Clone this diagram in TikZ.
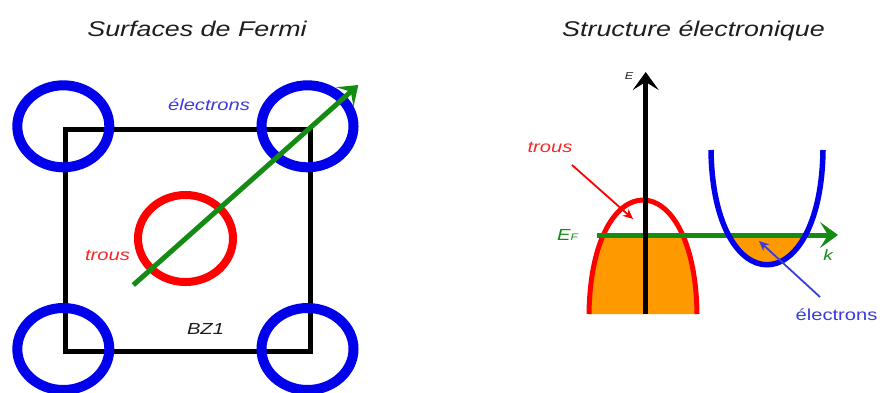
\documentclass[tikz,border=0pt]{standalone}
\usepackage{fontspec}
\setmainfont{Liberation Sans}
\usepackage{graphicx}
\usetikzlibrary{arrows.meta}
\definecolor{bblue}{RGB}{0,0,235}
\definecolor{tblue}{RGB}{60,60,220}
\definecolor{rred}{RGB}{255,0,0}
\definecolor{tred}{RGB}{245,40,40}
\definecolor{ggreen}{RGB}{20,140,20}
\definecolor{oorange}{RGB}{255,153,0}
\definecolor{ttext}{RGB}{30,30,30}
\newcommand{\strx}[1]{\scalebox{1.26}[1]{#1}}
\begin{document}
\begin{tikzpicture}[x=1pt,y=-1pt,
  lbl/.style={inner sep=0pt, anchor=base, font=\fontsize{16}{18}\selectfont\itshape},
  ttl/.style={inner sep=0pt, anchor=base, font=\fontsize{21.3}{24}\selectfont\itshape, text=ttext},
  bigarrow/.style={line width=5pt, -{Stealth[length=18pt,width=26pt,inset=8pt]}},
  bluering/.style={draw=bblue, line width=10pt},
  thinarrow/.style={line width=1.8pt, -{Stealth[open, length=10pt, width=9pt]}}
]
\useasboundingbox (0,0) rectangle (880,392);

% ---------- left panel ----------
\node[ttl] (t1) at (197,36.7) {\strx{Surfaces de Fermi}};
\draw[line width=5pt] (65,129) rectangle (310,351);
\draw[bluering] (63.3,126.3) ellipse [x radius=46pt, y radius=41pt];
\draw[bluering] (307.5,126.3) ellipse [x radius=46pt, y radius=41pt];
\draw[bluering] (63.3,349) ellipse [x radius=46pt, y radius=41pt];
\draw[bluering] (307.5,349) ellipse [x radius=46pt, y radius=41pt];
\draw[draw=rred, line width=8pt] (185.5,238.5) ellipse [x radius=47.5pt, y radius=43.5pt];
\coordinate (ga) at (133.3,285);
\coordinate (gb) at (358.3,85);
\draw[bigarrow, draw=ggreen, fill=ggreen] (ga) -- (gb);
\node[lbl, text=tblue] (el1) at (209,110) {\strx{électrons}};
\node[lbl, text=tred] (tr1) at (107.5,260) {\strx{trous}};
\node[lbl, text=ttext] (bz) at (205.5,334) {\strx{BZ1}};

% ---------- right panel ----------
\node[ttl] (t2) at (693.5,36) {\strx{Structure électronique}};
\begin{scope}
  \clip (560,235) rectangle (880,392);
  \fill[oorange] (589,314) .. controls (591,162) and (695,162) .. (697,314) -- cycle;
  \fill[oorange] (711,150) .. controls (713,303) and (821,303) .. (823,150) -- cycle;
\end{scope}
\draw[draw=rred, line width=5pt] (589,314) .. controls (591,162) and (695,162) .. (697,314);
\coordinate (fa) at (597,235);
\coordinate (fb) at (838,235);
\draw[bigarrow, draw=ggreen, fill=ggreen] (fa) -- (fb);
\draw[draw=bblue, line width=5.5pt] (711,150) .. controls (713,303) and (821,303) .. (823,150);
\coordinate (ea) at (645.7,314);
\coordinate (eb) at (645.7,72);
\draw[bigarrow, draw=black, fill=black] (ea) -- (eb);

\node[lbl, text=tred] (tr2) at (550,152.7) {\strx{trous}};
\coordinate (ra) at (572,165);
\coordinate (rb) at (633,219);
\draw[thinarrow, draw=rred] (ra) -- (rb);
\node[lbl, text=tblue, font=\fontsize{16}{18}\selectfont\upshape] (el2) at (836.5,320) {\strx{électrons}};
\coordinate (ba) at (820,297);
\coordinate (bb) at (759,241);
\draw[thinarrow, draw=tblue] (ba) -- (bb);

\node[inner sep=0pt, anchor=base west, text=ggreen, font=\fontsize{16}{18}\selectfont\itshape] (ef) at (557,240) {\strx{E}{\fontsize{9.5}{10}\selectfont\strx{F}}};
\node[lbl, text=ggreen, font=\fontsize{15}{17}\selectfont\itshape] (kk) at (828,260) {\strx{k}};
\node[lbl, text=ttext, font=\fontsize{10}{11}\selectfont\itshape] (ee) at (629,79) {\strx{E}};
\end{tikzpicture}
\end{document}
